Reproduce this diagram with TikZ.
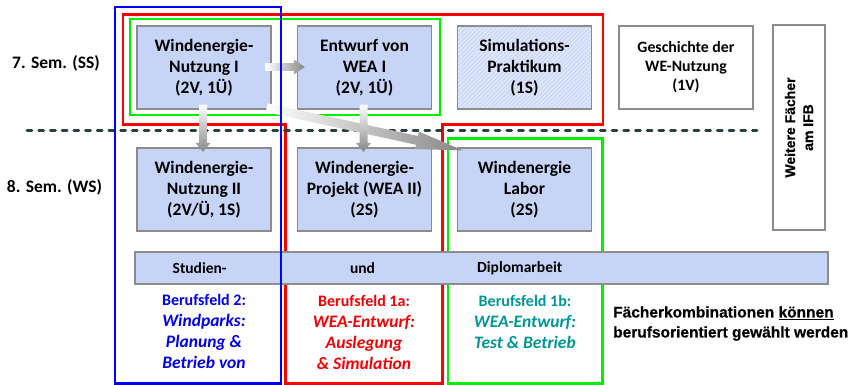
\documentclass[tikz,border=0pt]{standalone}
\usepackage{fontspec}
\setmainfont{Carlito}
\newfontfamily\arialfont{Liberation Sans}[BoldFeatures={FakeBold=0.6}]
\usetikzlibrary{calc,patterns.meta}

\definecolor{boxblue}{RGB}{198,212,248}
\definecolor{boxedge}{RGB}{140,140,140}
\definecolor{frameblue}{RGB}{0,0,255}
\definecolor{framered}{RGB}{255,0,0}
\definecolor{framegreen}{RGB}{0,240,0}
\definecolor{dashcol}{RGB}{40,62,64}
\definecolor{arrowgray}{RGB}{135,135,135}
\definecolor{tealtext}{RGB}{0,150,150}
\definecolor{bluetext}{RGB}{0,0,235}
\definecolor{redtext}{RGB}{245,0,0}

\tikzset{
  course/.style={draw=boxedge, line width=1.3pt, fill=boxblue,
    minimum width=134pt, minimum height=83pt, inner sep=0pt, align=center,
    font=\bfseries\fontsize{17.5}{21}\selectfont},
  plainbox/.style={course, fill=white},
  frame/.style={line width=2.5pt},
  semlabel/.style={font=\bfseries\fontsize{17.5}{21}\selectfont, inner sep=0pt},
  bartext/.style={font=\bfseries\fontsize{15.5}{19}\selectfont, inner sep=0pt},
  fieldtext/.style={align=center, inner sep=0pt,
    font=\bfseries\fontsize{17.5}{21}\selectfont},
  blockfill/.style={left color=white, right color=arrowgray},
  blockfilldown/.style={top color=white, bottom color=arrowgray},
}

% block arrow: #1 style, #2 tail, #3 tip, #4 shaft half width,
% #5 head half width, #6 head length
\newcommand{\blockarrow}[6]{%
  \coordinate (ba-h) at ($(#3)!#6!(#2)$);
  \path[#1] ($(#2)!#4!90:(#3)$) -- ($(ba-h)!#4!-90:(#2)$)
    -- ($(ba-h)!#5!-90:(#2)$) -- (#3) -- ($(ba-h)!#5!90:(#2)$)
    -- ($(ba-h)!#4!90:(#2)$) -- ($(#2)!#4!-90:(#3)$) -- cycle;}

% first, smaller line of a field description
\newcommand{\fieldhead}[1]{{\fontsize{16}{21}\selectfont #1}}

\begin{document}
\begin{tikzpicture}[x=1pt,y=-1pt]
\useasboundingbox (0,0) rectangle (859,384);

% red and green groupings of the courses
\draw[frame, framered] (123,14.3) -- (603,14.3) -- (603,124.7) -- (442.5,124.7)
  -- (442.5,383.3) -- (285.5,383.3) -- (285.5,124.7) -- (123,124.7) -- cycle;
\draw[frame, framegreen] (130,19) rectangle (440,115);
\draw[frame, framegreen] (448,138.3) rectangle (602.7,383.3);

% semester border
\coordinate (dl) at (27,130.7);
\coordinate (dr) at (757,130.7);
\draw[dashcol, line width=2.7pt, line cap=round, dash pattern=on 5pt off 6.7pt] (dl) -- (dr);

% semester labels
\node[semlabel] (s7) at (56,63) {7. Sem. (SS)};
\node[semlabel] (s8) at (54.5,187) {8. Sem. (WS)};

% courses, 7th semester
\node[course] (n1) at (204,67.5) {Windenergie-\\Nutzung I\\(2V, 1Ü)};
\node[course] (e1) at (364.5,67.5) {Entwurf von\\WEA I\\(2V, 1Ü)};
\node[course, fill=none, preaction={fill=boxblue!55!white},
  pattern={Lines[angle=45, distance=3pt, line width=0.9pt]}, pattern color=boxblue]
  (sim) at (524.5,67.5) {Simulations-\\Praktikum\\(1S)};
\node[plainbox, font=\bfseries\fontsize{15.8}{19}\selectfont] (ges) at (686,67.5)
  {Geschichte der\\WE-Nutzung\\(1V)};
\node[plainbox, rotate=90, minimum width=205pt, minimum height=52pt,
  font=\arialfont\bfseries\fontsize{14}{18}\selectfont] (wf) at (799,127.5)
  {Weitere Fächer\\am IFB};

% courses, 8th semester
\node[course] (n2) at (204,189.5) {Windenergie-\\Nutzung II\\(2V/Ü, 1S)};
\node[course] (p2) at (364.5,189.5) {Windenergie-\\Projekt (WEA II)\\(2S)};
\node[course] (lab) at (524.5,189.5) {Windenergie\\Labor\\(2S)};

% thesis bar
\node[course, minimum width=693pt, minimum height=32pt] (bar) at (481.5,268) {};
\node[bartext] (bt1) at (199.7,268.5) {Studien-};
\node[bartext] (bt2) at (362.5,268.5) {und};
\node[bartext] (bt3) at (519.7,268.5) {Diplomarbeit};

% progression arrows
\coordinate (a1s) at ($(n1.east)+(-6,-0.5)$);
\coordinate (a1e) at ($(e1.west)+(8,-0.5)$);
\blockarrow{blockfill}{a1s}{a1e}{3.8pt}{7.5pt}{11pt}
\coordinate (a4s) at ($(n1.south east)+(-5,-2)$);
\coordinate (a4e) at ($(lab.north west)+(6,3)$);
\blockarrow{blockfill}{a4s}{a4e}{4.5pt}{9pt}{47pt}
\coordinate (a2s) at ($(n1.south)+(-1,-5)$);
\coordinate (a2e) at ($(n2.north)+(-1,4.5)$);
\blockarrow{blockfilldown}{a2s}{a2e}{4pt}{7.5pt}{9pt}
\coordinate (a3s) at ($(e1.south)+(-1,-5)$);
\coordinate (a3e) at ($(p2.north)+(-1,4.5)$);
\blockarrow{blockfilldown}{a3s}{a3e}{4pt}{7.5pt}{9pt}

% blue grouping on top
\draw[frame, frameblue] (115,7) rectangle (281,383.3);

% fields of profession
\node[fieldtext, text=bluetext] (bf2) at (204,331.5)
  {\fieldhead{Berufsfeld 2:}\\ \textit{Windparks:}\\
   \textit{Planung \&}\\ \textit{Betrieb von}};
\node[fieldtext, text=redtext] (bf1a) at (364,332)
  {\fieldhead{Berufsfeld 1a:}\\ \textit{WEA-Entwurf:}\\
   \textit{Auslegung}\\ \textit{\& Simulation}};
\node[fieldtext, text=tealtext] (bf1b) at (525,322)
  {\fieldhead{Berufsfeld 1b:}\\ \textit{WEA-Entwurf:}\\
   \textit{Test \& Betrieb}};

\node[anchor=west, align=left, inner sep=0pt,
  font=\arialfont\bfseries\fontsize{15.5}{20}\selectfont] (note) at (613,323.5)
  {Fächerkombinationen \underline{können}\\berufsorientiert gewählt werden};
\end{tikzpicture}
\end{document}
